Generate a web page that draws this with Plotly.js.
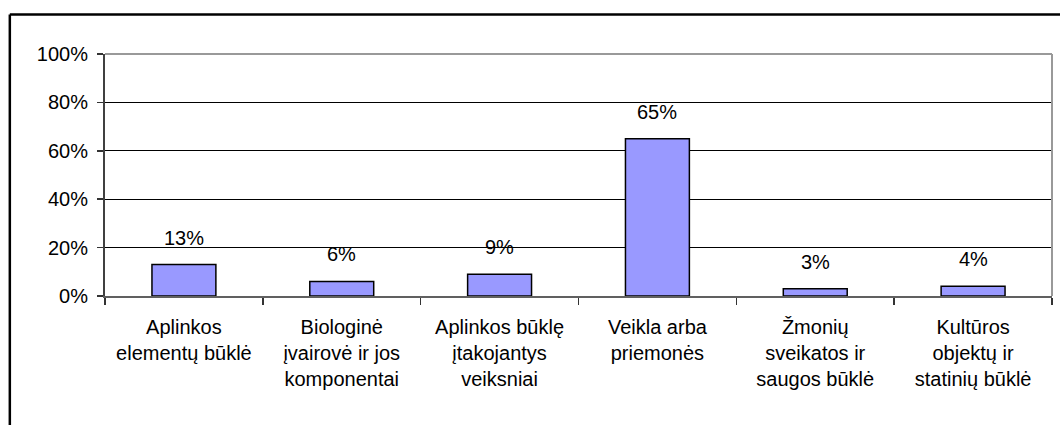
<!DOCTYPE html>
<html>
<head>
<meta charset="utf-8">
<script src="https://cdn.plot.ly/plotly-3.0.1.min.js"></script>
<style>
html,body{margin:0;padding:0;background:#fff;}
#chart{width:1060px;height:425px;}
</style>
</head>
<body>
<div id="chart"></div>
<script>
const categories = [
  "Aplinkos<br>elementų būklė",
  "Biologinė<br>įvairovė ir jos<br>komponentai",
  "Aplinkos būklę<br>įtakojantys<br>veiksniai",
  "Veikla arba<br>priemonės",
  "Žmonių<br>sveikatos ir<br>saugos būklė",
  "Kultūros<br>objektų ir<br>statinių būklė"
];
const values = [0.13, 0.06, 0.09, 0.65, 0.03, 0.04];
const valueLabels = ["13%", "6%", "9%", "65%", "3%", "4%"];
const yTickVals = [0, 0.2, 0.4, 0.6, 0.8, 1.0];
const yTickText = ["0%", "20%", "40%", "60%", "80%", "100%"];

const FONT = "Liberation Sans, Arial, sans-serif";

const trace = {
  type: "bar",
  x: categories,
  y: values,
  marker: {color: "#9999FF", line: {color: "#000000", width: 1.5}},
  hoverinfo: "none"
};

const annotations = categories.map((c, i) => ({
  x: c, y: values[i], xref: "x", yref: "y",
  text: valueLabels[i], showarrow: false,
  yanchor: "bottom", yshift: 14,
  font: {family: FONT, size: 20, color: "#000"}
}));

const layout = {
  width: 1060, height: 425,
  margin: {l: 105, r: 8, t: 54, b: 129},
  paper_bgcolor: "#fff", plot_bgcolor: "#fff",
  bargap: 0.595,
  showlegend: false,
  font: {family: FONT, size: 20, color: "#000"},
  xaxis: {
    type: "category",
    tickson: "boundaries",
    ticks: "outside", ticklen: 7, tickcolor: "#333", tickwidth: 1.5,
    showline: true, linecolor: "#606060", linewidth: 1.5,
    showgrid: false, zeroline: false,
    ticklabelstandoff: 12,
    tickfont: {family: FONT, size: 20, color: "#000"},
    fixedrange: true
  },
  yaxis: {
    range: [0, 1],
    tickvals: yTickVals, ticktext: yTickText,
    ticks: "outside", ticklen: 6, tickcolor: "#333", tickwidth: 1.5,
    showline: true, linecolor: "#404040", linewidth: 2,
    showgrid: true, gridcolor: "#000", gridwidth: 1,
    zeroline: false,
    ticklabelstandoff: 5,
    tickfont: {family: FONT, size: 20, color: "#000"},
    fixedrange: true
  },
  annotations: annotations,
  shapes: [
    {type: "line", xref: "paper", yref: "paper", x0: 0, x1: 1, y0: 1, y1: 1,
     line: {color: "#999", width: 2}},
    {type: "line", xref: "paper", yref: "paper", x0: 1, x1: 1, y0: 0, y1: 1,
     line: {color: "#999", width: 2}},
    {type: "line", xref: "paper", yref: "paper",
     x0: -0.1005, x1: 1.1, y0: 1.1632, y1: 1.1632,
     line: {color: "#000", width: 2.5}},
    {type: "line", xref: "paper", yref: "paper",
     x0: -0.1005, x1: -0.1005, y0: 1.1632, y1: -0.6,
     line: {color: "#000", width: 2.5}}
  ]
};

Plotly.newPlot("chart", [trace], layout, {displayModeBar: false, staticPlot: true});
</script>
</body>
</html>
